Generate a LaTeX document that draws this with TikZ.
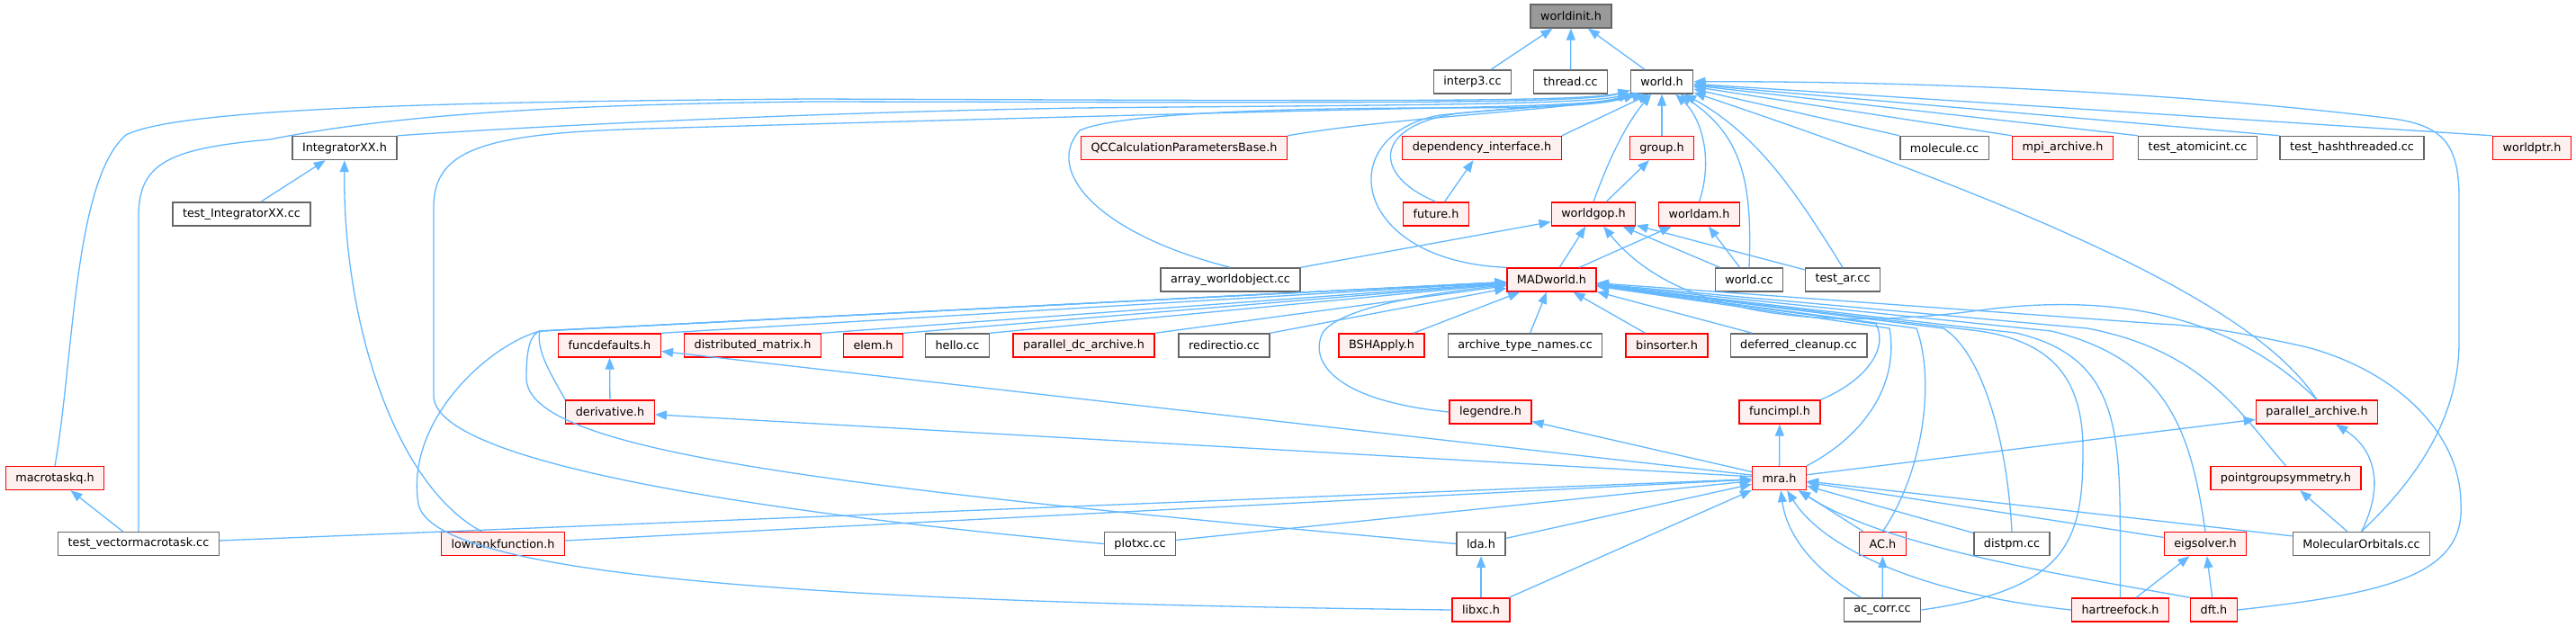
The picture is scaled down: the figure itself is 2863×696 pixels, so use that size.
\documentclass[tikz,border=0pt]{standalone}
\usepackage{fontspec}
\setmainfont{DejaVu Sans}
\usepackage{tikz}
\usetikzlibrary{arrows.meta}
\definecolor{DoxEdge}{HTML}{63B8FF}
\definecolor{DoxFrame}{HTML}{666666}
\definecolor{DoxRoot}{HTML}{999999}
\definecolor{DoxRed}{HTML}{FF0000}
\definecolor{DoxPink}{HTML}{FFF0F0}

\begin{document}
\begin{tikzpicture}[x=1pt,y=-1pt,
  plain/.style={draw=DoxFrame,fill=white,line width=1.4pt,minimum height=26pt,inner xsep=11pt,inner ysep=0pt,font=\fontsize{12.8}{15}\selectfont},
  hot/.style={plain,draw=DoxRed,fill=DoxPink},
  root/.style={plain,fill=DoxRoot},
  incl/.style={DoxEdge,line width=1.3pt,-{Triangle[length=13pt,width=10pt]}}]
\fill[white] (0,0) rectangle (2863,696);
\useasboundingbox (0,0) rectangle (2863,696);
\foreach \s/\n/\x/\y/\t in {root/worldinit/1746/18/worldinit.h,
  plain/interp3/1636.5/91/interp3.cc, plain/thread/1745.5/91/thread.cc, plain/worldh/1847/91/world.h,
  plain/integ/383/164.5/IntegratorXX.h, hot/qccalc/1316/164.5/QCCalculationParametersBase.h,
  hot/depint/1647/164.5/dependency\_interface.h, hot/group/1847/164.5/group.h,
  plain/molecule/2161/164.5/molecule.cc, hot/mpiarch/2292.5/164.5/mpi\_archive.h,
  plain/atomicint/2442.5/164.5/test\_atomicint.cc, plain/hashthr/2614/164.5/test\_hashthreaded.cc,
  hot/worldptr/2814/164.5/worldptr.h,
  plain/testinteg/268.5/238/test\_IntegratorXX.cc, hot/future/1596/238/future.h,
  hot/worldgop/1771/238/worldgop.h, hot/worldam/1888.5/238/worldam.h,
  plain/arraywo/1367.5/311/array\_worldobject.cc, hot/madworld/1724.5/311/MADworld.h,
  plain/worldcc/1944/311/world.cc, plain/testar/2048/311/test\_ar.cc,
  hot/funcdef/677.5/384/funcdefaults.h, hot/distmat/836.5/384/distributed\_matrix.h,
  hot/elem/970.5/384/elem.h, plain/hello/1064/384/hello.cc,
  hot/pardc/1204.5/384/parallel\_dc\_archive.h, plain/redir/1360.5/384/redirectio.cc,
  hot/bsh/1535.5/384/BSHApply.h, plain/archtn/1695/384/archive\_type\_names.cc,
  hot/binsort/1852.5/384/binsorter.h, plain/deferred/1999/384/deferred\_cleanup.cc,
  hot/deriv/678/458/derivative.h, hot/legendre/1656.5/458/legendre.h,
  hot/funcimpl/1978/458/funcimpl.h, hot/pararch/2575/458/parallel\_archive.h,
  hot/macrotaskq/61/531.5/macrotaskq.h, hot/mra/1977.5/531.5/mra.h,
  hot/pgsym/2540.5/531.5/pointgroupsymmetry.h,
  plain/testvec/154/604.5/test\_vectormacrotask.cc, hot/lowrank/559/604.5/lowrankfunction.h,
  plain/plotxc/1267/604.5/plotxc.cc, plain/lda/1646/604.5/lda.h, hot/ach/2092.5/604.5/AC.h,
  plain/distpm/2236/604.5/distpm.cc, hot/eigsolver/2451/604.5/eigsolver.h,
  plain/molorb/2624.5/604.5/MolecularOrbitals.cc,
  hot/libxc/1646/678/libxc.h, plain/accorr/2092/678/ac\_corr.cc,
  hot/hartree/2356.5/678/hartreefock.h, hot/dft/2460.5/678/dft.h}
  {\node[\s] (\n) at (\x,\y) {\t};}
\coordinate (madbundle) at (600,368);
\foreach \a/\b in {interp3/worldinit, thread/worldinit, worldh/worldinit,
  depint.north east/worldh.-135, group/worldh,
  molecule.north west/worldh, mpiarch.north west/worldh, atomicint.north west/worldh,
  hashthr.north west/worldh, worldptr.north west/worldh,
  future/depint, worldgop/group, testinteg/integ, testvec/macrotaskq,
  arraywo.north east/worldgop, madworld/worldgop, worldcc/worldgop, testar/worldgop,
  madworld/worldam, worldcc/worldam,
  funcdef.north east/madworld, distmat.north east/madworld, elem.north east/madworld,
  hello.north east/madworld, pardc.north east/madworld, redir.north east/madworld,
  bsh/madworld, archtn/madworld, binsort/madworld, deferred/madworld,
  deriv/funcdef, mra/funcimpl, mra/legendre, mra/funcdef, mra/deriv,
  testvec/mra, lowrank/mra, plotxc/mra, lda/mra, libxc/mra, ach/mra,
  distpm/mra, eigsolver/mra, molorb/mra, mra/pararch,
  libxc/lda, accorr/ach, hartree/eigsolver, dft/eigsolver, molorb/pgsym}
  {\draw[incl] (\a) -- (\b);}
\draw[incl] (macrotaskq.north) .. controls (82,400) and (82,200) .. (140,150) .. controls (200,120) and (500,113) .. (900,110) .. controls (1500,112) and (1760,114) .. (worldh.-165);
\draw[incl] (testvec.north) -- (154,240) .. controls (154,180) and (190,165) .. (300,155) .. controls (450,125) and (650,116) .. (900,113) .. controls (1500,114) and (1760,116) .. (worldh.-165);
\draw[incl] (integ.north east) .. controls (600,140) and (900,125) .. (1200,120) .. controls (1500,117) and (1760,117) .. (worldh.-160);
\draw[incl] (plotxc.west) .. controls (900,575) and (482,520) .. (482,440) -- (482,230) .. controls (482,165) and (540,148) .. (720,143) .. controls (1000,135) and (1400,124) .. (1550,121) .. controls (1700,118) and (1780,116) .. (worldh.-160);
\draw[incl] (qccalc.north east) .. controls (1550,130) and (1750,122) .. (worldh.-155);
\draw[incl] (arraywo.north) .. controls (1220,260) and (1160,190) .. (1200,145) .. controls (1250,122) and (1500,120) .. (1600,120) .. controls (1700,120) and (1780,118) .. (worldh.-155);
\draw[incl] (future.north) .. controls (1525,195) and (1525,140) .. (1620,126) .. controls (1700,118) and (1780,116) .. (worldh.-145);
\draw[incl] (madworld.north west) .. controls (1500,290) and (1480,150) .. (1600,128) .. controls (1700,118) and (1780,116) .. (worldh.-145);
\draw[incl] (worldgop.north) .. controls (1785,185) and (1805,140) .. (worldh);
\draw[incl] (worldam.north) .. controls (1905,175) and (1890,130) .. (worldh);
\draw[incl] (worldcc.north) .. controls (1948,200) and (1935,150) .. (worldh);
\draw[incl] (testar.north) .. controls (2000,220) and (1955,150) .. (worldh);
\draw[incl] (molorb.north) .. controls (2700,520) and (2733,450) .. (2733,380) -- (2733,220) .. controls (2733,160) and (2715,140) .. (2660,132) .. controls (2400,100) and (2100,90) .. (worldh);
\draw[incl] (pararch.north) .. controls (2520,360) and (2350,260) .. (worldh);
\draw[incl] (pararch.north) .. controls (2480,350) and (2350,325) .. (2200,345) .. controls (2050,365) and (1870,360) .. (worldgop);
\draw[incl] (lowrank.150) .. controls (440,540) and (381,360) .. (integ);
\draw[incl] (deriv.north west) .. controls (615,420) and (595,390) .. (madbundle) -- (madworld);
\draw[incl] (lda.west) .. controls (900,540) and (585,500) .. (585,420) .. controls (585,385) and (590,372) .. (madbundle) -- (madworld);
\draw[incl] (libxc.west) .. controls (900,670) and (480,640) .. (465,560) .. controls (450,470) and (540,385) .. (madbundle) -- (madworld);
\draw[incl] (legendre.west) .. controls (1480,445) and (1455,400) .. (1470,370) .. controls (1490,340) and (1600,325) .. (madworld);
\draw[incl] (funcimpl.north east) .. controls (2070,425) and (2100,390) .. (2085,360) -- (madworld);
\draw[incl] (mra.north east) .. controls (2080,480) and (2110,420) .. (2100,365) -- (madworld);
\draw[incl] (ach.north) .. controls (2140,520) and (2150,420) .. (2130,365) -- (madworld);
\draw[incl] (distpm.north) .. controls (2230,480) and (2200,390) .. (2160,365) -- (madworld);
\draw[incl] (accorr.east) .. controls (2300,655) and (2315,600) .. (2315,500) .. controls (2315,420) and (2280,380) .. (2200,368) -- (madworld);
\draw[incl] (hartree.north) .. controls (2355,500) and (2370,400) .. (2240,370) -- (madworld);
\draw[incl] (eigsolver.north) .. controls (2435,480) and (2410,400) .. (2280,368) -- (madworld);
\draw[incl] (pgsym.north) .. controls (2490,460) and (2450,390) .. (2320,365) -- (madworld);
\draw[incl] (dft.east) .. controls (2650,660) and (2740,640) .. (2735,560) .. controls (2735,480) and (2660,410) .. (2560,385) .. controls (2500,372) and (2450,362) .. (2400,360) -- (madworld);
\draw[incl] (accorr.150) .. controls (2010,630) and (1985,590) .. (mra);
\draw[incl] (hartree.west) .. controls (2150,662) and (2030,615) .. (mra);
\draw[incl] (dft.north west) .. controls (2300,640) and (2100,610) .. (mra);
\draw[incl] (molorb.north) .. controls (2650,540) and (2640,500) .. (pararch);
\end{tikzpicture}
\end{document}
